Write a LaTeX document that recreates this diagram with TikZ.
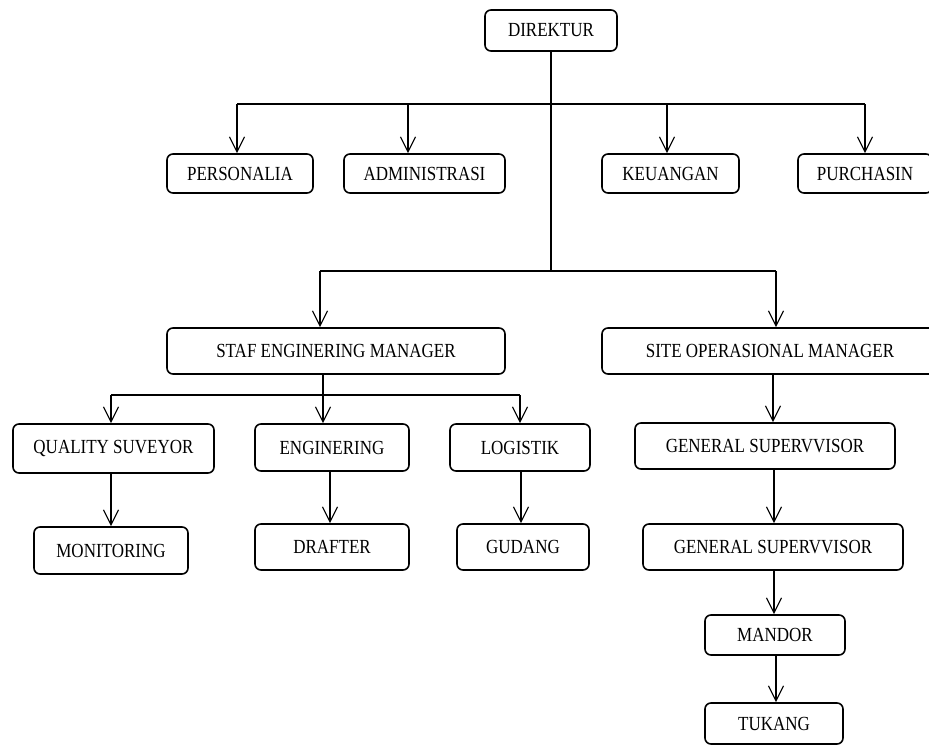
\documentclass[tikz,border=0pt]{standalone}
\usepackage{fontspec}
\setmainfont{Liberation Serif}[FakeStretch=0.85]
\usetikzlibrary{arrows.meta}
\tikzset{
  box/.style={draw, line width=1.6pt, rounded corners=6pt, inner sep=0pt, font=\fontsize{20}{22}\selectfont, text=black},
  conn/.style={line width=1.2pt, -{Straight Barb[length=15pt,width=15pt]}},
  plain/.style={line width=1.2pt}
}
\begin{document}
\begin{tikzpicture}[x=1pt,y=-1pt]
\useasboundingbox (0,0) rectangle (929,745);
% nodes
\node[box, minimum width=132pt, minimum height=41pt] (dir) at (551,30.5) {DIREKTUR};
\node[box, minimum width=146pt, minimum height=39pt] (pers) at (240,173.5) {PERSONALIA};
\node[box, minimum width=161pt, minimum height=39pt] (adm) at (424.5,173.5) {ADMINISTRASI};
\node[box, minimum width=137pt, minimum height=39pt] (keu) at (670.5,173.5) {KEUANGAN};
\node[box, minimum width=134pt, minimum height=39pt] (pur) at (865,173.5) {PURCHASIN};
\node[box, minimum width=338pt, minimum height=46pt] (staf) at (336,351) {STAF ENGINERING MANAGER};
\node[box, minimum width=336pt, minimum height=46pt] (site) at (770,351) {SITE OPERASIONAL MANAGER};
\node[box, minimum width=201pt, minimum height=49pt] (qs) at (113.5,448.5) {QUALITY SUVEYOR};
\node[box, minimum width=154pt, minimum height=47pt] (eng) at (332,447.5) {ENGINERING};
\node[box, minimum width=140pt, minimum height=47pt] (log) at (520,447.5) {LOGISTIK};
\node[box, minimum width=260pt, minimum height=46pt] (gs1) at (765,446) {GENERAL SUPERVVISOR};
\node[box, minimum width=154pt, minimum height=47pt] (mon) at (111,550.5) {MONITORING};
\node[box, minimum width=154pt, minimum height=46pt] (dra) at (332,547) {DRAFTER};
\node[box, minimum width=132pt, minimum height=46pt] (gud) at (523,547) {GUDANG};
\node[box, minimum width=260pt, minimum height=46pt] (gs2) at (773,547) {GENERAL SUPERVVISOR};
\node[box, minimum width=140pt, minimum height=40pt] (man) at (775,635) {MANDOR};
\node[box, minimum width=138pt, minimum height=41pt] (tuk) at (774,723.5) {TUKANG};
% bus coordinates
\coordinate (b1) at (551,104);
\coordinate (b1l) at (237,104);
\coordinate (b1a) at (408,104);
\coordinate (b1k) at (667,104);
\coordinate (b1r) at (865,104);
\coordinate (b2) at (551,271);
\coordinate (b2l) at (320,271);
\coordinate (b2r) at (776,271);
\coordinate (b3) at (323,395);
\coordinate (b3l) at (111,395);
\coordinate (b3r) at (520,395);
% top level
\draw[plain] (dir.south) -- (b2);
\draw[plain] (b1l) -- (b1r);
\draw[conn] (b1l) -- (b1l |- pers.north);
\draw[conn] (b1a) -- (b1a |- adm.north);
\draw[conn] (b1k) -- (b1k |- keu.north);
\draw[conn] (b1r) -- (b1r |- pur.north);
% managers
\draw[plain] (b2l) -- (b2r);
\draw[conn] (b2l) -- (b2l |- staf.north);
\draw[conn] (b2r) -- (b2r |- site.north);
% staf branch
\draw[conn] (b3 |- staf.south) -- (b3 |- eng.north);
\draw[plain] (b3l) -- (b3r);
\draw[conn] (b3l) -- (b3l |- qs.north);
\draw[conn] (b3r) -- (b3r |- log.north);
\draw[conn] (b3l |- qs.south) -- (b3l |- mon.north);
\draw[conn] ([xshift=-2pt]eng.south) -- ([xshift=-2pt]eng.south |- dra.north);
\draw[conn] ([xshift=1pt]log.south) -- ([xshift=1pt]log.south |- gud.north);
% site branch
\draw[conn] ([xshift=3pt]site.south) -- ([xshift=3pt]site.south |- gs1.north);
\draw[conn] ([xshift=9pt]gs1.south) -- ([xshift=9pt]gs1.south |- gs2.north);
\draw[conn] ([xshift=1pt]gs2.south) -- ([xshift=1pt]gs2.south |- man.north);
\draw[conn] ([xshift=1pt]man.south) -- ([xshift=1pt]man.south |- tuk.north);
\end{tikzpicture}
\end{document}
